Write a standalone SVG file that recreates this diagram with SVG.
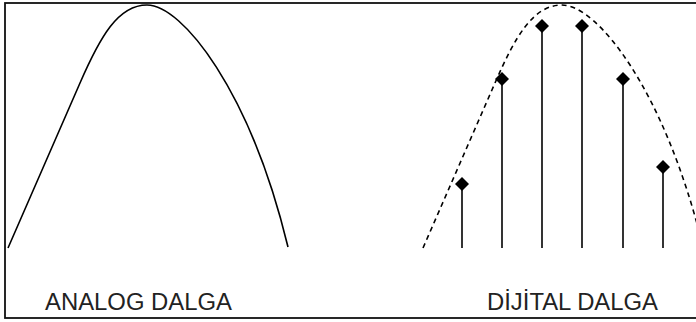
<svg xmlns="http://www.w3.org/2000/svg" width="696" height="322" viewBox="0 0 696 322">
<style>
.wave{fill:none;stroke:#000;stroke-width:1.6}
.dash{stroke-dasharray:5 4}
.stem{stroke:#000;stroke-width:1.6}
.dot{fill:#000}
.lbl{font-family:"Liberation Sans",Arial,sans-serif;font-size:23px;fill:#222}
</style>
<defs>
<path id="hump" d="M8,248 L80,83 C100,37 118,5 147,5 C182,5 250,90 288,247"/>
<polygon id="dm" points="0,-7 7,0 0,7 -7,0"/>
</defs>
<rect x="5" y="3" width="698" height="315" fill="#fff" stroke="#111" stroke-width="1.8"/>
<g id="analog">
<use href="#hump" class="wave"/>
<text class="lbl" x="45" y="310" textLength="187" lengthAdjust="spacingAndGlyphs">ANALOG DALGA</text>
</g>
<g id="digital">
<use href="#hump" class="wave dash" transform="translate(415,0)"/>
<g id="stems">
<line class="stem" x1="462" y1="184" x2="462" y2="248"/>
<line class="stem" x1="502" y1="79" x2="502" y2="248"/>
<line class="stem" x1="542" y1="26" x2="542" y2="248"/>
<line class="stem" x1="582" y1="26" x2="582" y2="248"/>
<line class="stem" x1="623" y1="79" x2="623" y2="248"/>
<line class="stem" x1="663" y1="167" x2="663" y2="248"/>
</g>
<use href="#dm" class="dot" x="462" y="184"/>
<use href="#dm" class="dot" x="502" y="79"/>
<use href="#dm" class="dot" x="542" y="26"/>
<use href="#dm" class="dot" x="582" y="26"/>
<use href="#dm" class="dot" x="623" y="79"/>
<use href="#dm" class="dot" x="663" y="167"/>
<text class="lbl" x="487" y="310" textLength="171" lengthAdjust="spacingAndGlyphs">DİJİTAL DALGA</text>
</g>
</svg>
